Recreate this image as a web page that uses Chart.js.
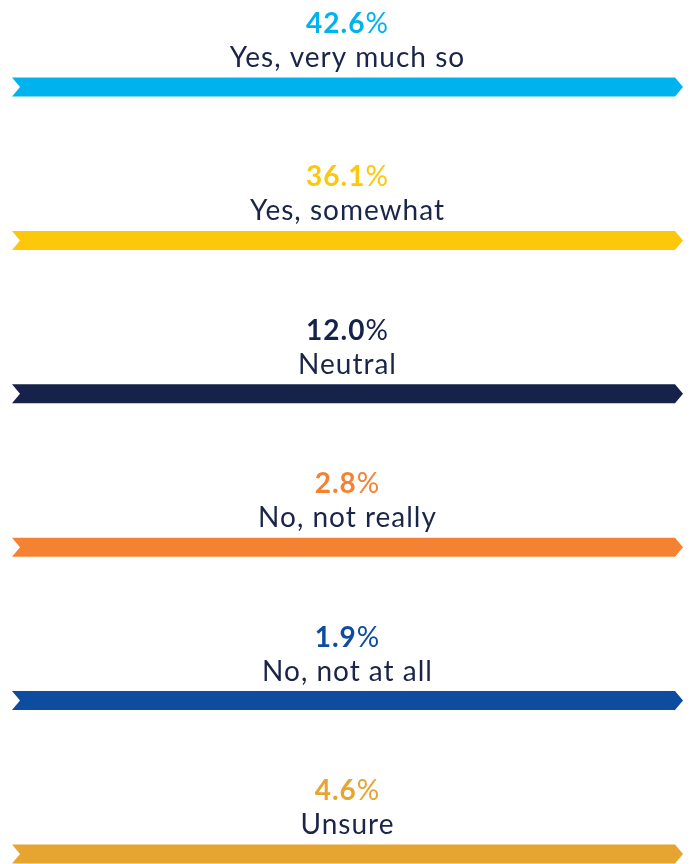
<!DOCTYPE html>
<html>
<head>
<meta charset="utf-8">
<script src="https://cdn.jsdelivr.net/npm/chart.js@4.4.1/dist/chart.umd.min.js"></script>
<style>
  html, body { margin: 0; padding: 0; background: #fff; }
  #wrap { width: 696px; height: 864px; }
</style>
</head>
<body>
<div id="wrap"><canvas id="myChart"></canvas></div>
<script>
const categories = ["Yes, very much so", "Yes, somewhat", "Neutral", "No, not really", "No, not at all", "Unsure"];
const shares = [42.6, 36.1, 12.0, 2.8, 1.9, 4.6];
// every ribbon runs the full width, the value is only shown as text
const track = categories.map(() => 100);
const colors = ["#00B3EE", "#FDC70C", "#17224A", "#F58233", "#0D4C9E", "#E6A530"];
const labelColor = "#1B2549";
const FONT = "Lato, 'Open Sans', sans-serif";

// ribbon shape: notched on the left, pointed on the right
const ribbonBars = {
  id: 'ribbonBars',
  beforeDatasetDraw(chart, args) {
    const { ctx } = chart;
    const meta = args.meta;
    meta.data.forEach((bar, i) => {
      const { x, y, base, height } = bar.getProps(['x', 'y', 'base', 'height'], true);
      const h = height / 2;
      const notch = 8;
      ctx.save();
      ctx.fillStyle = colors[i];
      ctx.beginPath();
      ctx.moveTo(base, y - h);
      ctx.lineTo(x - notch, y - h);
      ctx.lineTo(x, y);
      ctx.lineTo(x - notch, y + h);
      ctx.lineTo(base, y + h);
      ctx.lineTo(base + notch, y);
      ctx.closePath();
      ctx.fill();
      ctx.restore();
    });
    return false;
  },
  afterDatasetsDraw(chart) {
    const { ctx, chartArea } = chart;
    const meta = chart.getDatasetMeta(0);
    const cx = (chartArea.left + chartArea.right) / 2;
    meta.data.forEach((bar, i) => {
      const y = bar.y;
      // value: bold number, regular percent sign
      const num = shares[i].toFixed(1);
      ctx.save();
      ctx.textBaseline = 'alphabetic';
      ctx.textAlign = 'left';
      ctx.letterSpacing = '1px';
      ctx.font = "bold 28px " + FONT;
      const w1 = ctx.measureText(num).width;
      ctx.font = "28px " + FONT;
      const w2 = ctx.measureText('%').width;
      let x0 = cx - (w1 + w2) / 2;
      ctx.fillStyle = colors[i];
      ctx.font = "bold 28px " + FONT;
      ctx.fillText(num, x0, y - 54);
      ctx.font = "28px " + FONT;
      ctx.fillText('%', x0 + w1, y - 54);
      // category name
      ctx.textAlign = 'center';
      ctx.fillStyle = labelColor;
      ctx.font = "28px " + FONT;
      ctx.fillText(categories[i], cx, y - 20);
      ctx.restore();
    });
  }
};

const ctx = document.getElementById("myChart");

const myChart = new Chart(ctx, {
  type: "bar",
  plugins: [ribbonBars],
  data: {
    labels: categories,
    datasets: [
      {
        data: track,
        backgroundColor: colors,
        barThickness: 19,
      },
    ],
  },
  options: {
    indexAxis: 'y',
    responsive: true,
    maintainAspectRatio: false,
    animation: false,
    layout: {
      padding: { top: 87, bottom: 10, left: 12, right: 13 },
    },
    plugins: {
      legend: { display: false },
      tooltip: { enabled: false },
      title: { display: false },
    },
    scales: {
      x: {
        min: 0,
        max: 100,
        display: false,
      },
      y: {
        offset: false,
        display: false,
      },
    },
  },
});
</script>
</body>
</html>
